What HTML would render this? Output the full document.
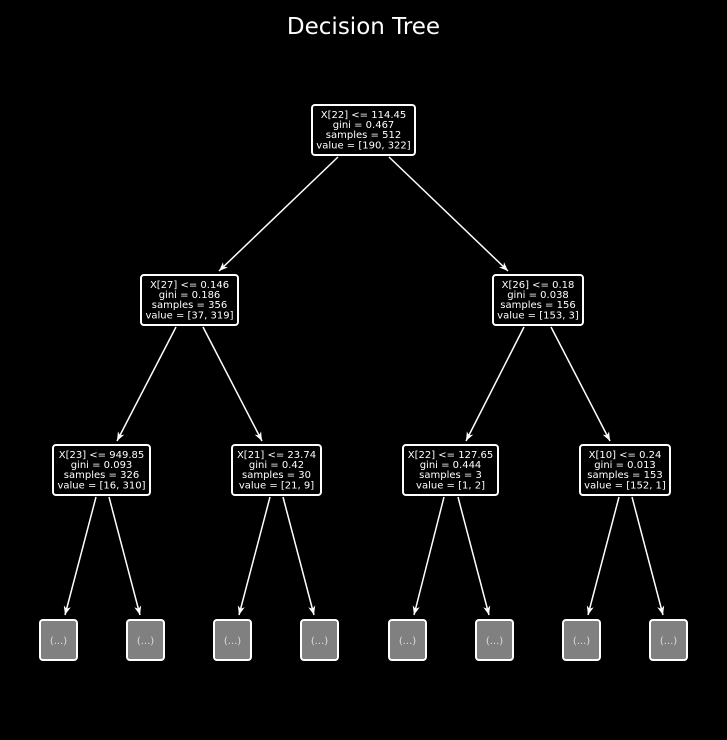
<!DOCTYPE html>
<html><head><style>html,body{margin:0;background:#000;overflow:hidden}svg{display:block}</style></head><body>
<svg width="727" height="740" xmlns="http://www.w3.org/2000/svg" font-family="DejaVu Sans, Liberation Sans, sans-serif">
<rect width="727" height="740" fill="#000"/>
<text x="363.5" y="34" fill="#fff" font-size="23" text-anchor="middle">Decision Tree</text>
<defs><marker id="a" viewBox="0 0 10 10" refX="10" refY="5" markerWidth="6" markerHeight="6" orient="auto"><path d="M0,1 L10,5 L0,9 L3,5z" fill="#fff"/></marker></defs>
<g stroke="#fff" stroke-width="1.5" marker-end="url(#a)">
<line x1="338" y1="157" x2="219" y2="271"/><line x1="389" y1="157" x2="508" y2="271"/>
<line x1="176" y1="327" x2="117" y2="441"/><line x1="203" y1="327" x2="262" y2="441"/>
<line x1="524" y1="327" x2="466" y2="441"/><line x1="551" y1="327" x2="610" y2="441"/>
<line x1="96" y1="497" x2="65" y2="615"/><line x1="109" y1="497" x2="140" y2="615"/>
<line x1="270" y1="497" x2="239" y2="615"/><line x1="283" y1="497" x2="314" y2="615"/>
<line x1="444" y1="497" x2="414" y2="615"/><line x1="458" y1="497" x2="489" y2="615"/>
<line x1="619" y1="497" x2="588" y2="615"/><line x1="632" y1="497" x2="663" y2="615"/>
</g>
<g stroke="#fff" stroke-width="2" fill="#000">
<rect x="312" y="105" width="103" height="50" rx="3"/>
<rect x="141" y="275" width="97" height="50" rx="3"/>
<rect x="493" y="275" width="90" height="50" rx="3"/>
<rect x="53" y="445" width="97" height="50" rx="3"/>
<rect x="232" y="445" width="89" height="50" rx="3"/>
<rect x="403" y="445" width="95" height="50" rx="3"/>
<rect x="580" y="445" width="90" height="50" rx="3"/>
</g>
<g stroke="#fff" stroke-width="2" fill="#808080">
<rect x="40" y="620" width="37" height="40" rx="3"/><rect x="127" y="620" width="37" height="40" rx="3"/>
<rect x="214" y="620" width="37" height="40" rx="3"/><rect x="301" y="620" width="37" height="40" rx="3"/>
<rect x="389" y="620" width="37" height="40" rx="3"/><rect x="476" y="620" width="37" height="40" rx="3"/>
<rect x="563" y="620" width="37" height="40" rx="3"/><rect x="650" y="620" width="37" height="40" rx="3"/>
</g>
<g fill="#fff" font-size="10" text-anchor="middle">
<text x="363.5" y="118">X[22] &lt;= 114.45</text><text x="363.5" y="128">gini = 0.467</text><text x="363.5" y="138">samples = 512</text><text x="363.5" y="148.5">value = [190, 322]</text>
<text x="189.5" y="288">X[27] &lt;= 0.146</text><text x="189.5" y="298">gini = 0.186</text><text x="189.5" y="308">samples = 356</text><text x="189.5" y="318.5">value = [37, 319]</text>
<text x="538" y="288">X[26] &lt;= 0.18</text><text x="538" y="298">gini = 0.038</text><text x="538" y="308">samples = 156</text><text x="538" y="318.5">value = [153, 3]</text>
<text x="101.5" y="458">X[23] &lt;= 949.85</text><text x="101.5" y="468">gini = 0.093</text><text x="101.5" y="478">samples = 326</text><text x="101.5" y="488.5">value = [16, 310]</text>
<text x="276.5" y="458">X[21] &lt;= 23.74</text><text x="276.5" y="468">gini = 0.42</text><text x="276.5" y="478">samples = 30</text><text x="276.5" y="488.5">value = [21, 9]</text>
<text x="450.5" y="458">X[22] &lt;= 127.65</text><text x="450.5" y="468">gini = 0.444</text><text x="450.5" y="478">samples = 3</text><text x="450.5" y="488.5">value = [1, 2]</text>
<text x="625" y="458">X[10] &lt;= 0.24</text><text x="625" y="468">gini = 0.013</text><text x="625" y="478">samples = 153</text><text x="625" y="488.5">value = [152, 1]</text>
</g>
<g fill="#ddd" font-size="10" text-anchor="middle">
<text x="58.5" y="644">(...)</text><text x="145.5" y="644">(...)</text><text x="232.5" y="644">(...)</text><text x="319.5" y="644">(...)</text>
<text x="407.5" y="644">(...)</text><text x="494.5" y="644">(...)</text><text x="581.5" y="644">(...)</text><text x="668.5" y="644">(...)</text>
</g>
</svg>
</body></html>
